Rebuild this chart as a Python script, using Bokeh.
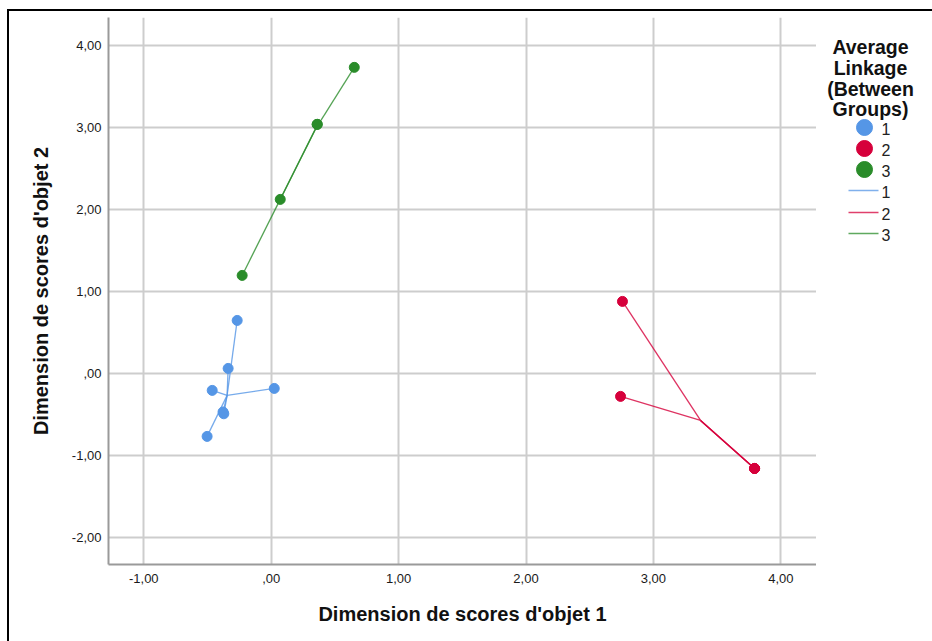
from bokeh.plotting import figure
from bokeh.layouts import row
from bokeh.models import Range1d, FixedTicker
from bokeh.core.properties import value
from bokeh.embed import file_html
from bokeh.resources import INLINE

# Object scores per cluster (Average Linkage, between groups)
clusters = ["1", "2", "3"]
colors = ["#5596E6", "#D6003B", "#2A8C2A"]

x_c1 = [-0.267, -0.338, -0.463, 0.024, -0.378, -0.372, -0.503]
y_c1 = [0.646, 0.061, -0.207, -0.183, -0.470, -0.492, -0.768]
x_c2 = [2.757, 2.742, 3.794, 3.794, 3.794]
y_c2 = [0.878, -0.280, -1.159, -1.159, -1.159]
x_c3 = [-0.228, 0.071, 0.361, 0.361, 0.652]
y_c3 = [1.195, 2.122, 3.037, 3.037, 3.732]

# cluster centroids (spike hubs)
centroid_x = [-0.346, 3.370, 0.346]
centroid_y = [-0.268, -0.573, 2.976]

x_ticks = [-1, 0, 1, 2, 3, 4]
x_tick_labels = ["-1,00", ",00", "1,00", "2,00", "3,00", "4,00"]
y_ticks = [-2, -1, 0, 1, 2, 3, 4]
y_tick_labels = ["-2,00", "-1,00", ",00", "1,00", "2,00", "3,00", "4,00"]

x_title = "Dimension de scores d'objet 1"
y_title = "Dimension de scores d'objet 2"
legend_title = ["Average", "Linkage", "(Between", "Groups)"]

FONT = value("Liberation Sans")

p = figure(width=807, height=630,
           x_range=Range1d(-1.277, 4.28), y_range=Range1d(-2.33, 4.34),
           output_backend="svg", toolbar_location=None,
           min_border_left=99, min_border_right=0, min_border_top=6,
           min_border_bottom=77)
p.outline_line_color = None
p.background_fill_color = "white"
p.border_fill_color = "white"

p.xaxis.ticker = FixedTicker(ticks=x_ticks)
p.yaxis.ticker = FixedTicker(ticks=y_ticks)
p.xaxis.major_label_overrides = dict(zip(x_ticks, x_tick_labels))
p.yaxis.major_label_overrides = dict(zip(y_ticks, y_tick_labels))

for ax in (p.xaxis, p.yaxis):
    ax.axis_line_color = "#9a9a9a"
    ax.axis_line_width = 2
    ax.major_tick_line_color = None
    ax.minor_tick_line_color = None
    ax.major_tick_out = 0
    ax.major_tick_in = 0
    ax.major_label_text_font = "Liberation Sans"
    ax.major_label_text_font_size = "13px"
    ax.major_label_text_color = "#1a1a1a"
    ax.axis_label_text_font = "Liberation Sans"
    ax.axis_label_text_font_style = "bold"
    ax.axis_label_text_font_size = "20px"
    ax.axis_label_text_color = "#111111"

p.xaxis.axis_label = x_title
p.yaxis.axis_label = y_title
p.xaxis.major_label_standoff = 9
p.yaxis.major_label_standoff = 7
p.xaxis.axis_label_standoff = 17
p.yaxis.axis_label_standoff = 17

p.grid.grid_line_color = "#cdcdcd"
p.grid.grid_line_width = 2

groups = [(x_c1, y_c1), (x_c2, y_c2), (x_c3, y_c3)]
for i, (xs, ys) in enumerate(groups):
    cx, cy = centroid_x[i], centroid_y[i]
    p.segment(x0=xs, y0=ys, x1=[cx] * len(xs), y1=[cy] * len(xs),
              line_color=colors[i], line_width=1.3, line_alpha=0.8)
for i, (xs, ys) in enumerate(groups):
    p.scatter(x=xs, y=ys, size=10, fill_color=colors[i], line_color=colors[i])

# legend panel; its frame is aligned with the main plot frame (page y 17..564)
lg = figure(width=116, height=630, x_range=Range1d(816, 932), y_range=Range1d(564, 17),
            output_backend="svg", toolbar_location=None,
            min_border_left=0, min_border_right=0, min_border_top=0, min_border_bottom=0)
lg.axis.visible = False
lg.grid.visible = False
lg.outline_line_color = None
lg.border_fill_color = "white"

lg.text(x=[870] * 4, y=[46, 67, 88, 108], text=legend_title,
        text_font=FONT, text_font_style="bold", text_font_size="19.5px",
        text_align="center", text_baseline="alphabetic", text_color="#111111")
lg.scatter(x=[864] * 3, y=[127, 148, 169], size=16, fill_color=colors, line_color=colors)
lg.text(x=[881] * 3, y=[128, 149, 170], text=clusters, text_font=FONT,
        text_font_size="16px", text_baseline="middle", text_color="#222222")
for i, yy in enumerate([190, 212, 233]):
    lg.segment(x0=[848], y0=[yy], x1=[878], y1=[yy], line_color=colors[i],
               line_width=1.6, line_alpha=0.75)
lg.text(x=[881] * 3, y=[191, 213, 234], text=clusters, text_font=FONT,
        text_font_size="16px", text_baseline="middle", text_color="#222222")

layout = row(p, lg, margin=(9, 0, 0, 7),
             styles={"border-top": "2px solid black", "border-left": "2px solid black"})

open("out.html", "w").write(file_html(layout, INLINE))
